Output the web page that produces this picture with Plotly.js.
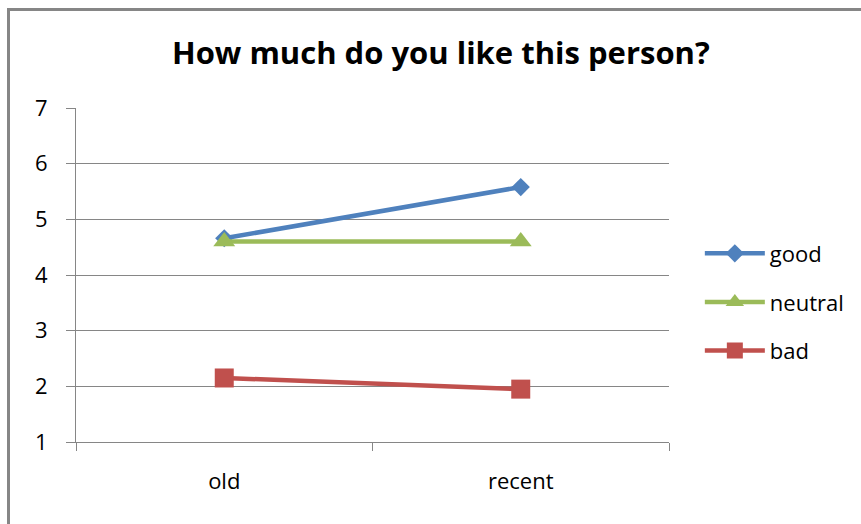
<!DOCTYPE html>
<html>
<head>
<meta charset="utf-8">
<script src="https://cdn.plot.ly/plotly-3.0.1.min.js"></script>
<style>
  html, body { margin: 0; padding: 0; background: #ffffff; }
  #chart { width: 861px; height: 524px; }
</style>
</head>
<body>
<div id="chart"></div>
<script>
// Ratings by recency of the memory
const categories = ["old", "recent"];
const goodValues = [4.66, 5.58];
const neutralValues = [4.6, 4.6];
const badValues = [2.15, 1.95];
const yTickValues = [1, 2, 3, 4, 5, 6, 7];

const FONT = "'Open Sans', 'DejaVu Sans', sans-serif";
const GRID = "#868686";

function series(name, values, color, symbol, size) {
  return {
    type: "scatter",
    mode: "lines+markers",
    name: name,
    legendgroup: name,
    x: categories,
    y: values,
    line: { color: color, width: 4.5 },
    marker: { color: color, symbol: symbol, size: size },
    cliponaxis: false
  };
}

const traces = [
  series("good", goodValues, "#4F81BD", "diamond", 14),
  series("neutral", neutralValues, "#9BBB59", "triangle-up", 19),
  series("bad", badValues, "#C0504D", "square", 19)
];

const layout = {
  width: 861,
  height: 524,
  margin: { l: 76, r: 192, t: 108, b: 82, pad: 0 },
  paper_bgcolor: "#ffffff",
  plot_bgcolor: "#ffffff",
  font: { family: FONT, size: 22, color: "#000000" },
  title: {
    text: "<b>How much do you like this person?</b>",
    font: { family: FONT, size: 31, color: "#000000" },
    x: 0.512,
    xanchor: "center",
    y: 0.899,
    yanchor: "middle",
    yref: "container"
  },
  showlegend: true,
  legend: {
    x: 1.052,
    xanchor: "left",
    y: 0.419,
    yanchor: "middle",
    font: { family: FONT, size: 22, color: "#000000" },
    tracegroupgap: 17,
    itemwidth: 60,
    bgcolor: "rgba(0,0,0,0)"
  },
  xaxis: {
    type: "category",
    categoryorder: "array",
    categoryarray: categories,
    range: [-0.5, 1.5],
    showgrid: false,
    zeroline: false,
    showline: true,
    linecolor: GRID,
    linewidth: 1,
    ticks: "outside",
    tickson: "boundaries",
    ticklen: 8,
    tickcolor: GRID,
    tickwidth: 1,
    ticklabelstandoff: 20,
    tickfont: { family: FONT, size: 22, color: "#000000" },
    fixedrange: true
  },
  yaxis: {
    range: [1, 7],
    tickvals: yTickValues,
    ticktext: yTickValues.map(String),
    showgrid: true,
    gridcolor: GRID,
    gridwidth: 1,
    zeroline: false,
    showline: true,
    linecolor: GRID,
    linewidth: 1,
    ticks: "outside",
    ticklen: 9,
    tickcolor: GRID,
    tickwidth: 1,
    ticklabelstandoff: 14,
    tickfont: { family: FONT, size: 22, color: "#000000" },
    fixedrange: true
  },
  shapes: [
    {
      // chart frame (top and left edges fall inside the page)
      type: "rect",
      xref: "paper",
      yref: "paper",
      x0: (8.5 - 76) / 593,
      x1: 2,
      y0: -1,
      y1: (442 - 9.5) / 334,
      line: { color: "#868686", width: 3 },
      fillcolor: "rgba(0,0,0,0)",
      layer: "above"
    }
  ]
};

Plotly.newPlot("chart", traces, layout, { displayModeBar: false, staticPlot: true });
</script>
</body>
</html>
